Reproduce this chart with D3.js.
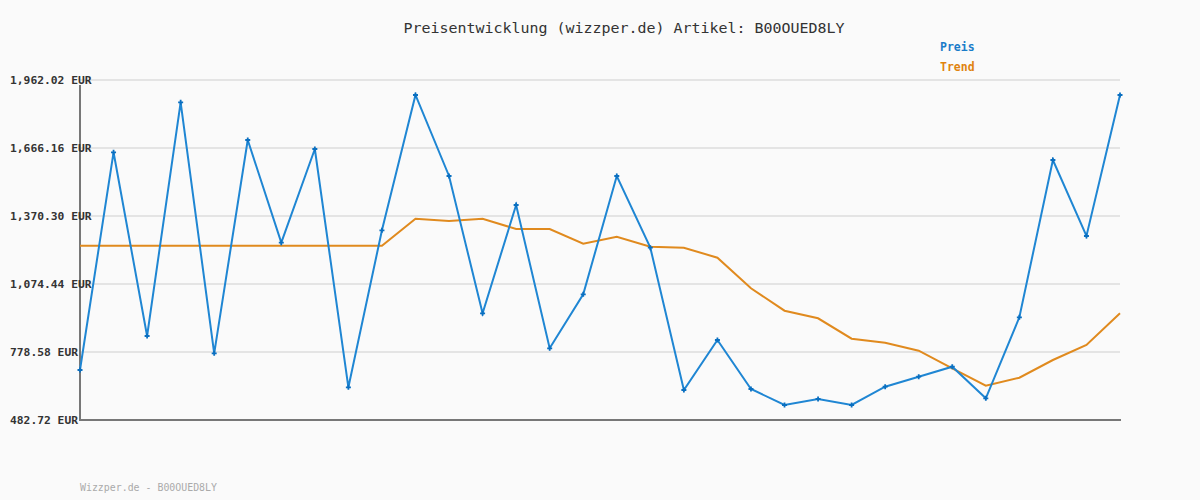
<!DOCTYPE html>
<html><head><meta charset="utf-8">
<script src="https://cdn.jsdelivr.net/npm/d3@7"></script>
<style>body{margin:0;background:#fafafa}svg{display:block}</style>
</head><body><svg id="c" width="1200" height="500"></svg>
<script>
const title = "Preisentwicklung (wizzper.de) Artikel: B00OUED8LY";
const footer = "Wizzper.de - B00OUED8LY";
const seriesNames = ["Preis", "Trend"];
const tickValues = [482.72, 778.58, 1074.44, 1370.30, 1666.16, 1962.02];
const tickLabels = ["482.72 EUR", "778.58 EUR", "1,074.44 EUR", "1,370.30 EUR", "1,666.16 EUR", "1,962.02 EUR"];
const preis = [700.3, 1647.5, 848.2, 1865.0, 772.9, 1701.0, 1254.2, 1661.8, 625.0, 1308.1,
  1896.8, 1544.4, 946.9, 1418.2, 794.7, 1029.6, 1544.4, 1232.4, 613.3, 830.8,
  617.6, 548.0, 574.1, 548.0, 627.6, 671.1, 714.6, 577.1, 929.6, 1614.0, 1283.3, 1896.8];
const trend = [1241.2, 1241.2, 1241.2, 1241.2, 1241.2, 1241.2, 1241.2, 1241.2, 1241.2, 1241.2,
  1358.6, 1348.6, 1358.6, 1313.8, 1313.8, 1249.8, 1280.3, 1236.8, 1232.4, 1188.9,
  1055.7, 958.3, 925.2, 836.5, 819.1, 784.2, 707.7, 632.0, 666.8, 743.8, 809.0, 946.9];

const svg = d3.select("#c");
const W = 1200, H = 500;
svg.append("rect").attr("width", W).attr("height", H).attr("fill", "#fafafa");
const x = d3.scaleLinear().domain([0, preis.length - 1]).range([80, 1120]);
const y = d3.scaleLinear().domain([482.72, 1962.02]).range([420, 80]);
const mono = "'DejaVu Sans Mono', 'Liberation Mono', monospace";

// grid
svg.append("g").selectAll("line").data(tickValues.slice(1)).join("line")
  .attr("x1", 80).attr("x2", 1120).attr("y1", d => y(d)).attr("y2", d => y(d))
  .attr("stroke", "#e4e4e4").attr("stroke-width", 2);

// axes
svg.append("line").attr("x1", 80).attr("x2", 80).attr("y1", 85).attr("y2", 420)
  .attr("stroke", "#777").attr("stroke-width", 2);
svg.append("line").attr("x1", 79).attr("x2", 1121).attr("y1", 420).attr("y2", 420)
  .attr("stroke", "#777").attr("stroke-width", 2);

// y labels
svg.append("g").selectAll("text").data(tickValues).join("text")
  .attr("x", 10).attr("y", d => y(d) + 4)
  .attr("font-family", mono).attr("font-size", 11.3).attr("font-weight", "bold")
  .attr("fill", "#333").text((d, i) => tickLabels[i]);

// lines
const line = d3.line().x((d, i) => x(i)).y(d => y(d));
svg.append("path").datum(trend).attr("d", line).attr("fill", "none")
  .attr("stroke", "#e08a1e").attr("stroke-width", 2);
svg.append("path").datum(preis).attr("d", line).attr("fill", "none")
  .attr("stroke", "#1f86d3").attr("stroke-width", 2);

// markers
svg.append("g").selectAll("path").data(preis).join("path")
  .attr("d", (d, i) => {
    const cx = x(i), cy = y(d);
    return `M${cx - 2.5},${cy}L${cx + 2.5},${cy}M${cx},${cy - 2.5}L${cx},${cy + 2.5}`;
  })
  .attr("stroke", "#0a6fc0").attr("stroke-width", 1.8);

// title
svg.append("text").attr("x", 624).attr("y", 33).attr("text-anchor", "middle")
  .attr("font-family", mono).attr("font-size", 13.5).attr("fill", "#333")
  .attr("textLength", 441).attr("lengthAdjust", "spacingAndGlyphs").text(title);

// legend
const legColors = ["#1a7cc9", "#e0830f"];
svg.append("g").selectAll("text").data(seriesNames).join("text")
  .attr("x", 940).attr("y", (d, i) => 51 + i * 20)
  .attr("font-family", mono).attr("font-size", 11.5).attr("font-weight", "bold")
  .attr("fill", (d, i) => legColors[i]).text(d => d);

// footer
svg.append("text").attr("x", 80).attr("y", 491)
  .attr("font-family", mono).attr("font-size", 10).attr("fill", "#aaa")
  .attr("textLength", 137).attr("lengthAdjust", "spacingAndGlyphs").text(footer);
</script></body></html>
